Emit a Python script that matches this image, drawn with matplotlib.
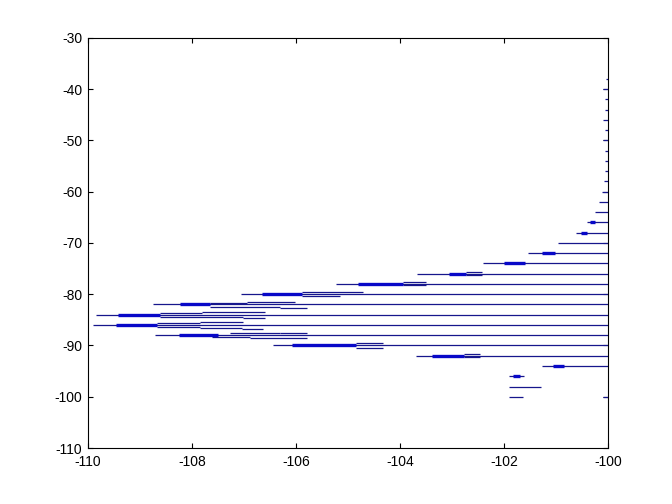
import numpy as np
import matplotlib
matplotlib.use('Agg')
import matplotlib.pyplot as plt

plt.rcParams['font.family'] = ['Liberation Sans', 'DejaVu Sans']
plt.rcParams['axes.unicode_minus'] = False

# main lines: from start x to -100 at each level
main_y = [-38, -40, -42, -44, -46, -48, -50, -52, -54, -56, -58, -60, -62, -64,
          -66, -68, -70, -72, -74, -76, -78, -80, -82, -84, -86, -88, -90, -92, -94]
main_x0 = [-100.04, -100.1, -100.06, -100.06, -100.1, -100.06, -100.1, -100.06,
           -100.06, -100.06, -100.08, -100.12, -100.18, -100.26, -100.4, -100.62,
           -100.96, -101.54, -102.4, -103.67, -105.24, -107.06, -108.75, -109.84,
           -109.9, -108.72, -106.45, -103.69, -101.27]

# short lines that do not reach -100
short_y = [-96, -98, -100, -100]
short_x0 = [-101.9, -101.9, -101.9, -100.1]
short_x1 = [-101.62, -101.3, -101.64, -100.0]

# thick parts
thick_y = [-66, -68, -72, -74, -76, -78, -80, -82, -84, -86, -88, -90, -92, -94, -96]
thick_x0 = [-100.35, -100.53, -101.27, -102.0, -103.06, -104.81, -106.66, -108.24,
            -109.42, -109.47, -108.26, -106.08, -103.38, -101.06, -101.82]
thick_x1 = [-100.25, -100.41, -101.03, -101.6, -102.73, -103.95, -105.89, -107.66,
            -108.62, -108.67, -107.5, -104.85, -102.77, -100.85, -101.7]

# thin side lines next to the levels
side_y = [-75.7, -76.3, -77.7, -78.3, -79.62, -80.28, -81.45, -81.77, -82.43, -82.74,
          -83.40, -83.72, -84.38, -84.69, -85.36, -85.67, -86.33, -86.64, -86.84,
          -87.5, -87.62, -88.28, -88.6, -89.57, -90.55, -91.7, -92.3]
side_x0 = [-102.73, -102.73, -103.95, -103.95, -105.89, -105.89, -106.95, -107.65,
           -107.65, -106.31, -107.81, -108.62, -108.62, -107.02, -107.85, -108.68,
           -108.68, -107.85, -107.04, -106.31, -107.27, -107.62, -106.88, -104.85,
           -104.85, -102.77, -102.77]
side_x1 = [-102.42, -102.42, -103.5, -103.5, -104.72, -105.15, -106.02, -106.95,
           -106.31, -105.79, -106.6, -107.81, -107.02, -106.6, -107.02, -107.85,
           -107.85, -107.04, -106.63, -105.79, -106.31, -106.88, -105.79, -104.33,
           -104.33, -102.46, -102.46]

thin_c = '#16168c'
thick_c = '#0808c8'

fig = plt.figure(figsize=(6.72, 5.04), dpi=100)
ax = fig.add_axes([0.131, 0.111, 0.774, 0.814])

ax.hlines(main_y, main_x0, -100, colors=thin_c, lw=0.9)
ax.hlines(short_y, short_x0, short_x1, colors=thin_c, lw=0.9)
ax.hlines(side_y, side_x0, side_x1, colors=thin_c, lw=0.9)
ax.hlines(thick_y, thick_x0, thick_x1, colors=thick_c, lw=2.4)

ax.set_xlim(-110, -100)
ax.set_ylim(-110, -30)
ax.set_xticks(np.arange(-110, -99, 2))
ax.set_yticks(np.arange(-110, -29, 10))
ax.tick_params(direction='in', length=3.7, width=0.8, top=True, right=True,
               labelsize=10, colors='black')
ax.tick_params(axis='x', pad=5)
ax.tick_params(axis='y', pad=4)
for s in ax.spines.values():
    s.set_linewidth(0.8)

fig.savefig('out.png', dpi=100)
